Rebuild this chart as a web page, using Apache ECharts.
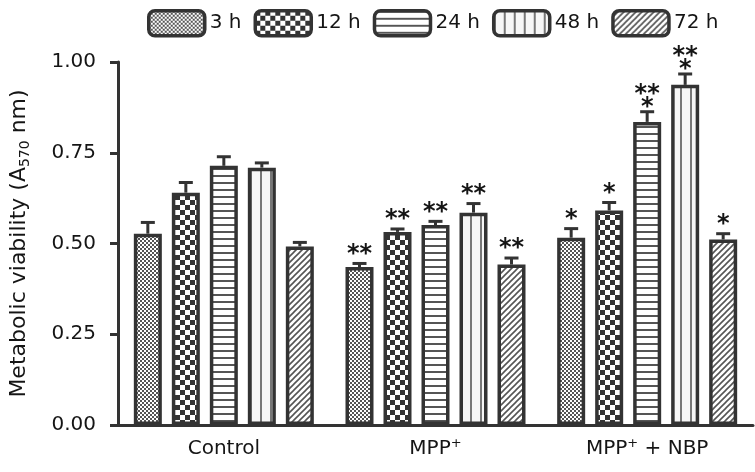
<!DOCTYPE html>
<html><head><meta charset="utf-8">
<script src="https://cdn.jsdelivr.net/npm/echarts@6/dist/echarts.min.js"></script>
<style>html,body{margin:0;padding:0;background:#fff}#c{width:755px;height:472px}</style>
</head><body><div id="c"></div>
<script>
var categories = ['Control', 'MPP+', 'MPP+ + NBP'];
var seriesNames = ['3 h', '12 h', '24 h', '48 h', '72 h'];
var v3  = [0.527, 0.435, 0.516];
var v12 = [0.640, 0.532, 0.591];
var v24 = [0.714, 0.551, 0.835];
var v48 = [0.709, 0.585, 0.937];
var v72 = [0.492, 0.442, 0.511];
var e3  = [0.031, 0.010, 0.025];
var e12 = [0.028, 0.008, 0.022];
var e24 = [0.025, 0.010, 0.028];
var e48 = [0.013, 0.025, 0.030];
var e72 = [0.011, 0.018, 0.016];
var a3  = ['', '**', '*'];
var a12 = ['', '**', '*'];
var a24 = ['', '**', '**|*'];
var a48 = ['', '**', '**|*'];
var a72 = ['', '**', '*'];

var values = [v3, v12, v24, v48, v72];
var errs = [e3, e12, e24, e48, e72];
var anns = [a3, a12, a24, a48, a72];

function mk(w, h, draw) {
  var c = document.createElement('canvas'); c.width = w; c.height = h;
  var g = c.getContext('2d'); g.fillStyle = '#fff'; g.fillRect(0, 0, w, h); draw(g); return c;
}
var patterns = [
  mk(4, 4, function (g) { g.fillStyle = '#555'; g.fillRect(0, 0, 2, 2); g.fillRect(2, 2, 2, 2); }),
  mk(10, 10, function (g) { g.fillStyle = '#333'; g.fillRect(0, 0, 5, 5); g.fillRect(5, 5, 5, 5); }),
  mk(7, 7, function (g) { g.fillStyle = '#555'; g.fillRect(0, 0, 7, 2); }),
  mk(10, 10, function (g) { g.fillStyle = '#f6f6f6'; g.fillRect(0, 0, 10, 10); g.fillStyle = '#777'; g.fillRect(0, 0, 2, 10); }),
  mk(6, 6, function (g) { g.strokeStyle = '#555'; g.lineWidth = 1.6; g.beginPath();
      g.moveTo(-1, 7); g.lineTo(7, -1); g.moveTo(-1, 1); g.lineTo(1, -1); g.moveTo(5, 7); g.lineTo(7, 5); g.stroke(); })
];

var FONT = 'DejaVu Sans';
var TXT = '#151515';
var LINE = '#333';
var BAR_W = 28, BAR_GAP = 10;
var series = [];
seriesNames.forEach(function (name, i) {
  series.push({
    name: name, type: 'bar', data: values[i], barWidth: BAR_W, barGap: (BAR_GAP / BAR_W * 100) + '%',
    itemStyle: { color: { image: patterns[i], repeat: 'repeat' }, borderColor: LINE, borderWidth: 3.5 },
    z: 2
  });
});
seriesNames.forEach(function (name, i) {
  series.push({
    type: 'custom', name: name + ' err', z: 3, silent: true,
    data: values[i].map(function (v, k) { return [k, v, errs[i][k]]; }),
    renderItem: function (params, api) {
      var k = api.value(0), v = api.value(1), e = api.value(2);
      var off = (i - 2) * (BAR_W + BAR_GAP);
      var p0 = api.coord([k, v]); var p1 = api.coord([k, v + e]);
      var x = p0[0] + off;
      var ch = [
        { type: 'line', shape: { x1: x, y1: p0[1], x2: x, y2: p1[1] }, style: { stroke: LINE, lineWidth: 3 } },
        { type: 'line', shape: { x1: x - 7, y1: p1[1], x2: x + 7, y2: p1[1] }, style: { stroke: LINE, lineWidth: 3 } }
      ];
      var a = anns[i][k];
      if (a) {
        var parts = a.split('|');
        var gaps = parts.length === 2 ? [23, 10] : [15];
        parts.forEach(function (t, j) {
          ch.push({ type: 'text', x: x, y: p1[1] - gaps[j] + 6,
            style: { text: t, fill: TXT, font: 'bold 24px "' + FONT + '"', align: 'center', verticalAlign: 'middle' } });
        });
      }
      return { type: 'group', children: ch };
    }
  });
});

var catLabels = { 'Control': '{m|Control}', 'MPP+': '{m|MPP}{s|+}', 'MPP+ + NBP': '{m|MPP}{s|+}{m| + NBP}' };
var rich = { m: { fontSize: 20, fontFamily: FONT, color: TXT, lineHeight: 24 },
             s: { fontSize: 13, fontFamily: FONT, color: TXT, lineHeight: 13, verticalAlign: 'top' } };

var chart = echarts.init(document.getElementById('c'), null, { renderer: 'canvas' });
chart.setOption({
  animation: false,
  textStyle: { fontFamily: FONT },
  grid: { left: 104, right: 2, top: 62, bottom: 47, containLabel: false },
  legend: {
    data: seriesNames, left: 142, top: 4, itemWidth: 56, itemHeight: 25, itemGap: 12, icon: 'roundRect',
    textStyle: { fontSize: 20, color: TXT, fontFamily: FONT, width: 44 },
    itemStyle: { borderColor: LINE, borderWidth: 3.5 }
  },
  xAxis: {
    type: 'category', data: categories,
    axisLine: { lineStyle: { color: LINE, width: 3 } },
    axisTick: { alignWithLabel: true, length: 7, lineStyle: { color: LINE, width: 3 } },
    axisLabel: { interval: 0, margin: 12, formatter: function (v) { return catLabels[v]; }, rich: rich }
  },
  yAxis: {
    type: 'value', min: 0, max: 1, interval: 0.25,
    name: '{m|Metabolic viability (A}{b|570}{m| nm)}', nameLocation: 'middle', nameGap: 86,
    nameTextStyle: { rich: { m: { fontSize: 22, fontFamily: FONT, color: TXT, lineHeight: 26 },
      b: { fontSize: 14, fontFamily: FONT, color: TXT, lineHeight: 14, verticalAlign: 'bottom' } } },
    axisLine: { show: true, lineStyle: { color: LINE, width: 3 } },
    axisTick: { show: true, length: 8, lineStyle: { color: LINE, width: 3 } },
    splitLine: { show: false },
    axisLabel: { margin: 22, fontSize: 20, color: TXT, fontFamily: FONT,
      formatter: function (v) { return v.toFixed(2); } }
  },
  series: series
});
</script></body></html>
